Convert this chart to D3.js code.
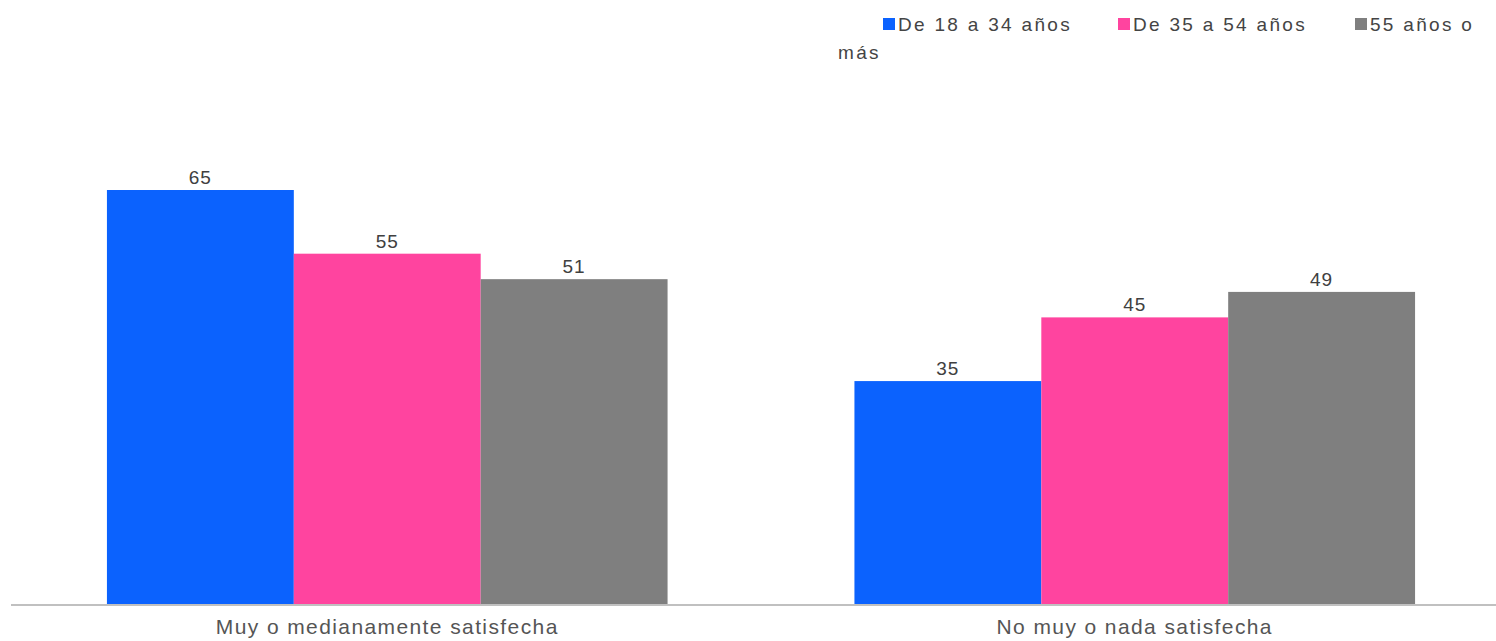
<!DOCTYPE html>
<html>
<head>
<meta charset="utf-8">
<script src="https://cdn.jsdelivr.net/npm/d3@7/dist/d3.min.js"></script>
<style>
  html, body { margin: 0; padding: 0; background: #fff; }
  svg { display: block; font-family: "Liberation Sans", Arial, sans-serif; }
</style>
</head>
<body>
<svg id="chart" width="1496" height="641"></svg>
<script>
const categories = ["Muy o medianamente satisfecha", "No muy o nada satisfecha"];
const seriesNames = ["De 18 a 34 años", "De 35 a 54 años", "55 años o más"];
const seriesColors = ["#0b62fe", "#ff449f", "#7f7f7f"];
const values18to34 = [65, 35];
const values35to54 = [55, 45];
const values55plus = [51, 49];
const seriesValues = [values18to34, values35to54, values55plus];

const W = 1496, H = 641;
const svg = d3.select("#chart");

const baseline = 604;
const x0 = d3.scaleBand().domain(categories).range([13.5, 1508.5]).paddingInner(0.25).paddingOuter(0.125);
const x1 = d3.scaleBand().domain(seriesNames).range([0, x0.bandwidth()]).padding(0);
const y = d3.scaleLinear().domain([0, 65]).range([baseline, 190]);

const rows = categories.map((c, i) => ({
  cat: c,
  vals: seriesNames.map((s, j) => ({ s, v: seriesValues[j][i], color: seriesColors[j] }))
}));

const g = svg.selectAll("g.cat").data(rows).enter().append("g")
  .attr("class", "cat")
  .attr("transform", d => `translate(${x0(d.cat)},0)`);

g.selectAll("rect").data(d => d.vals).enter().append("rect")
  .attr("x", d => x1(d.s))
  .attr("y", d => y(d.v))
  .attr("width", x1.bandwidth())
  .attr("height", d => y(0) - y(d.v))
  .attr("fill", d => d.color);

g.selectAll("text.val").data(d => d.vals).enter().append("text")
  .attr("class", "val")
  .attr("x", d => x1(d.s) + x1.bandwidth() / 2)
  .attr("y", d => y(d.v) - 6)
  .attr("text-anchor", "middle")
  .attr("font-size", 19)
  .attr("letter-spacing", 1)
  .attr("fill", "#404040")
  .text(d => d.v);

// x axis
const xAxis = d3.axisBottom(x0).tickSize(0).tickPadding(15);
const ax = svg.append("g").attr("transform", `translate(0,${baseline})`).call(xAxis);
ax.select(".domain").remove();
ax.selectAll("text").attr("font-size", 21).attr("letter-spacing", 1.4).attr("fill", "#555")
  .attr("font-family", "Liberation Sans, Arial, sans-serif");
svg.append("line").attr("x1", 11).attr("x2", W).attr("y1", baseline + 1).attr("y2", baseline + 1)
  .attr("stroke", "#c0c0c0").attr("stroke-width", 2);

// legend
const legendItems = [
  { name: "De 18 a 34 años", color: seriesColors[0], x: 883 },
  { name: "De 35 a 54 años", color: seriesColors[1], x: 1118 },
  { name: "55 años o", color: seriesColors[2], x: 1355 }
];
const lg = svg.append("g");
legendItems.forEach(it => {
  lg.append("rect").attr("x", it.x).attr("y", 18).attr("width", 12).attr("height", 12).attr("fill", it.color);
  lg.append("text").attr("x", it.x + 15).attr("y", 31).attr("font-size", 19).attr("letter-spacing", 2.3)
    .attr("fill", "#444").text(it.name);
});
lg.append("text").attr("x", 838).attr("y", 59).attr("font-size", 19).attr("letter-spacing", 2.3)
  .attr("fill", "#444").text("más");
</script>
</body>
</html>
